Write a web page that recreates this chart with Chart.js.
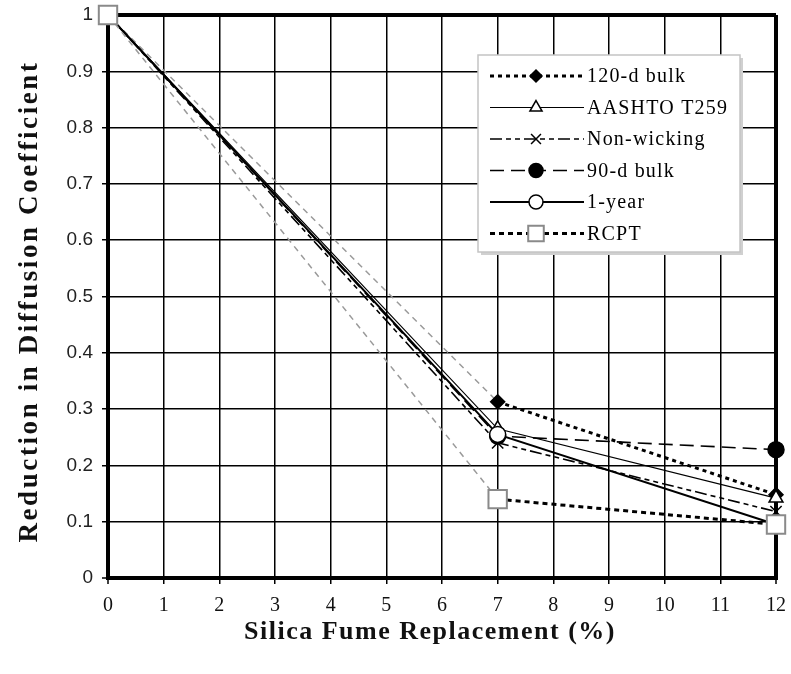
<!DOCTYPE html>
<html>
<head>
<meta charset="utf-8">
<title>Silica Fume Replacement</title>
<script src="https://cdn.jsdelivr.net/npm/chart.js@4.4.1/dist/chart.umd.min.js"></script>
<style>
  html, body { margin: 0; padding: 0; background: #fff; }
  #wrap { width: 791px; height: 674px; }
</style>
</head>
<body>
<div id="wrap"><canvas id="chart" width="791" height="674"></canvas></div>
<script>
// silica fume content (%) and normalised diffusion coefficient per test method
const replacement = [0, 7, 12];
const bulk120 = [1, 0.313, 0.148];
const aashto = [1, 0.265, 0.142];
const nonWicking = [1, 0.24, 0.118];
const bulk90 = [1, 0.252, 0.228];
const oneYear = [1, 0.255, 0.095];
const rcpt = [1, 0.14, 0.095];

const seriesNames = ['120-d bulk', 'AASHTO T259', 'Non-wicking', '90-d bulk', '1-year', 'RCPT'];
const seriesValues = [bulk120, aashto, nonWicking, bulk90, oneYear, rcpt];

const xTitle = 'Silica Fume Replacement (%)';
const yTitle = 'Reduction in Diffusion Coefficient';

const SERIF = '"Liberation Serif", "Times New Roman", serif';
const SANS = '"Liberation Sans", Arial, sans-serif';

// first leg of the two outer series is drawn as a light grey dash
const greyFirstLeg = {
  borderColor: (c) => (c.p0DataIndex === 0 ? '#9a9a9a' : undefined),
  borderDash: (c) => (c.p0DataIndex === 0 ? [6, 5] : undefined),
  borderWidth: (c) => (c.p0DataIndex === 0 ? 1.5 : undefined),
};

const styles = [
  { borderDash: [4, 4], borderWidth: 3, pointStyle: 'rectRot', pointRadius: 7, fill: '#000', segment: greyFirstLeg, order: 5 },
  { borderDash: [], borderWidth: 1.2, pointStyle: 'triangle', pointRadius: 8, fill: '#fff', order: 4 },
  { borderDash: [12, 4, 5, 4, 5, 4], borderWidth: 1.6, pointStyle: 'crossRot', pointRadius: 8, fill: '#fff', order: 3 },
  { borderDash: [14, 7], borderWidth: 1.6, pointStyle: 'circle', pointRadius: 8, fill: '#000', order: 2 },
  { borderDash: [], borderWidth: 2, pointStyle: 'circle', pointRadius: 8, fill: '#fff', order: 1 },
  { borderDash: [5, 4], borderWidth: 3, pointStyle: 'rect', pointRadius: 13, fill: '#fff', pointBorder: '#8a8a8a', segment: greyFirstLeg, order: 0 },
];

const datasets = seriesNames.map((name, i) => {
  const s = styles[i];
  return {
    label: name,
    data: replacement.map((x, j) => ({ x, y: seriesValues[i][j] })),
    borderColor: '#000',
    borderWidth: s.borderWidth,
    borderDash: s.borderDash,
    pointStyle: s.pointStyle,
    pointRadius: s.pointRadius,
    pointHoverRadius: s.pointRadius,
    pointBackgroundColor: s.fill,
    pointBorderColor: s.pointBorder || '#000',
    pointBorderWidth: s.pointBorder ? 2 : 1.5,
    segment: s.segment,
    order: s.order,
    tension: 0,
    fill: false,
    clip: false,
  };
});

// axis titles, drawn with a little letter spacing
const axisTitles = {
  id: 'axisTitles',
  afterDraw(chart) {
    const { ctx, chartArea } = chart;
    ctx.save();
    ctx.fillStyle = '#111';
    ctx.textAlign = 'center';
    ctx.textBaseline = 'middle';
    ctx.font = 'bold 26px ' + SERIF;
    ctx.letterSpacing = '1.5px';
    ctx.fillText(xTitle, (chartArea.left + chartArea.right) / 2 - 12, chartArea.bottom + 54);
    ctx.translate(30, (chartArea.top + chartArea.bottom) / 2 + 5);
    ctx.rotate(-Math.PI / 2);
    ctx.font = 'bold 27px ' + SERIF;
    ctx.letterSpacing = '2.6px';
    ctx.fillText(yTitle, 0, 0);
    ctx.restore();
  },
};

// boxed legend sitting in the upper right of the plot
const legendBox = {
  id: 'legendBox',
  afterDatasetsDraw(chart) {
    const { ctx, chartArea } = chart;
    const bx = chartArea.right - 298, by = chartArea.top + 40;
    const bw = 262, bh = 197;
    ctx.save();
    ctx.fillStyle = '#d0d0d0';
    ctx.fillRect(bx + 3, by + 3, bw, bh);
    ctx.fillStyle = '#fff';
    ctx.fillRect(bx, by, bw, bh);
    ctx.strokeStyle = '#c4c4c4';
    ctx.lineWidth = 1.5;
    ctx.strokeRect(bx, by, bw, bh);

    ctx.font = '20px ' + SERIF;
    ctx.letterSpacing = '1.2px';
    ctx.textBaseline = 'middle';
    ctx.textAlign = 'left';
    chart.data.datasets.forEach((ds, i) => {
      const rowY = by + 21 + i * 31.5;
      const x0 = bx + 12, x1 = bx + 106, mx = bx + 58;
      ctx.strokeStyle = '#000';
      ctx.lineWidth = ds.borderWidth;
      ctx.setLineDash(ds.borderDash);
      ctx.beginPath();
      ctx.moveTo(x0, rowY);
      ctx.lineTo(x1, rowY);
      ctx.stroke();
      ctx.setLineDash([]);
      ctx.fillStyle = ds.pointBackgroundColor;
      ctx.strokeStyle = ds.pointBorderColor;
      ctx.lineWidth = ds.pointBorderWidth;
      Chart.helpers.drawPoint(ctx, {
        pointStyle: ds.pointStyle,
        radius: ds.pointStyle === 'rect' ? 11 : ds.pointRadius - 1,
        rotation: 0,
        borderWidth: ds.pointBorderWidth,
      }, mx, rowY);
      ctx.fillStyle = '#000';
      ctx.fillText(ds.label, x1 + 3, rowY + 1);
    });
    ctx.restore();
  },
};

const edgeWidth = (edges) => (c) => (c.tick && edges.includes(c.tick.value) ? 4 : 1.5);

// keep the plot frame fixed: no extra room for overhanging tick labels
const fixBox = (size) => (scale) => {
  if (scale.isHorizontal()) scale.height = size; else scale.width = size;
  scale.paddingLeft = scale.paddingRight = scale.paddingTop = scale.paddingBottom = 0;
};

new Chart(document.getElementById('chart'), {
  type: 'line',
  data: { datasets },
  options: {
    responsive: false,
    animation: false,
    events: [],
    layout: { padding: { top: 15, right: 13, left: 0, bottom: 0 } },
    plugins: { legend: { display: false }, tooltip: { enabled: false } },
    scales: {
      x: {
        type: 'linear',
        min: 0,
        max: 12,
        afterFit: fixBox(96),
        ticks: { stepSize: 1, color: '#111', padding: 10, font: { family: SERIF, size: 20 } },
        grid: { color: '#000', lineWidth: edgeWidth([0, 12]), tickLength: 6, tickWidth: 1.5, tickColor: '#000' },
        border: { display: true, color: '#000', width: 4 },
      },
      y: {
        min: 0,
        max: 1,
        afterFit: fixBox(108),
        ticks: {
          stepSize: 0.1,
          color: '#222',
          padding: 9,
          font: { family: SANS, size: 19 },
          callback: (v) => String(Number(v.toFixed(1))),
        },
        grid: { color: '#000', lineWidth: edgeWidth([0, 1]), tickLength: 6, tickWidth: 1.5, tickColor: '#000' },
        border: { display: true, color: '#000', width: 4 },
      },
    },
  },
  plugins: [legendBox, axisTitles],
});
</script>
</body>
</html>
